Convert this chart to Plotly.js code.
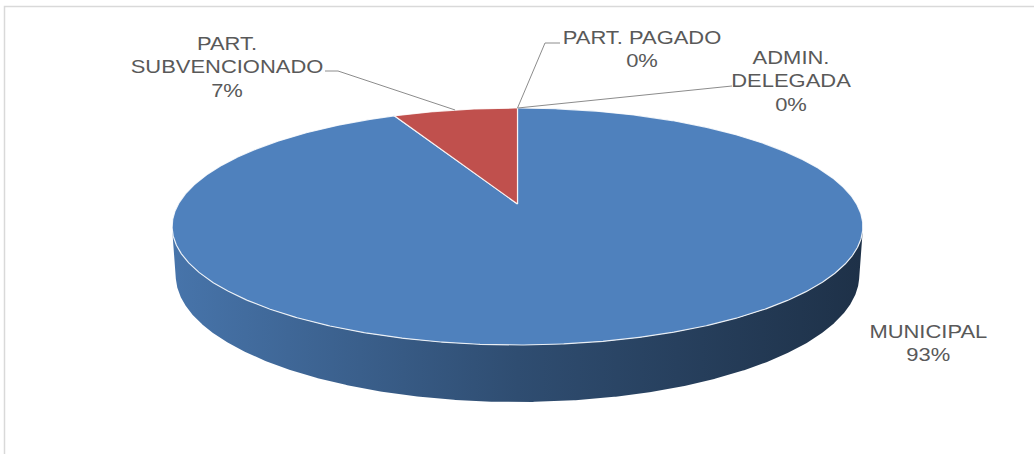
<!DOCTYPE html>
<html>
<head>
<meta charset="utf-8">
<script src="https://cdn.plot.ly/plotly-3.0.1.min.js"></script>
<style>
  html, body { margin: 0; padding: 0; background: #fff; }
  #chart { width: 1034px; height: 454px; }
</style>
</head>
<body>
<div id="chart"></div>
<script>
// ---- data ----
const categories = ['MUNICIPAL', 'PART. SUBVENCIONADO', 'PART. PAGADO', 'ADMIN. DELEGADA'];
const labelText = ['MUNICIPAL', 'PART.<br>SUBVENCIONADO', 'PART. PAGADO', 'ADMIN.<br>DELEGADA'];
const values = [93, 7, 0, 0];
const colors = ['#4F81BD', '#C0504D', '#9BBB59', '#8064A2'];

// ---- style / layout (label placement in page pixels) ----
const labelPos = [[928, 343], [227, 67], [642, 49], [791, 81]];
const labelElbow = [null, [[338, 71], [325, 71]], [[545, 43], [560, 43]], [[717, 87], [732, 86]]];

// perspective camera for the 3-D pie
const P = { cx: 517.5, cy: 204, k: 1681, s: 0.3368, c: 0.9416, D: 4.957, h: 0.151 };
function projXYZ(X, Y, Z) {
  const depth = P.D + Y * P.c - Z * P.s;
  const up = Y * P.s + Z * P.c;
  return [P.cx + P.k * X / depth, P.cy - P.k * up / depth];
}
function proj(th, z) { return projXYZ(Math.cos(th), Math.sin(th), z); }
function shade(hex, f) {
  const n = parseInt(hex.slice(1), 16);
  const r = Math.round(((n >> 16) & 255) * f), g = Math.round(((n >> 8) & 255) * f), b = Math.round((n & 255) * f);
  return 'rgb(' + r + ',' + g + ',' + b + ')';
}

const TAU = Math.PI * 2;
const total = values.reduce((a, b) => a + b, 0);
const step = TAU / 1440;
const visLimit = -1 / (P.D * P.c);

// overall horizontal extent for the side gradient
let minX = Infinity, maxX = -Infinity;
for (let t = 0; t < TAU; t += step) {
  const p = proj(t, -P.h / 2);
  minX = Math.min(minX, p[0]); maxX = Math.max(maxX, p[0]);
}

const wallTraces = [], topTraces = [], lineTraces = [];
const annotations = [];
let cum = 0;
values.forEach((v, i) => {
  const a0 = Math.PI / 2 - cum / total * TAU;
  const a1 = Math.PI / 2 - (cum + v) / total * TAU;
  const mid = (a0 + a1) / 2;
  cum += v;

  // side wall (visible front part)
  if (v > 0) {
    const n = Math.max(2, Math.ceil((a0 - a1) / step));
    let run = [];
    const flush = () => {
      if (run.length > 1) {
        const xs = [], ys = [];
        run.forEach(t => { const p = proj(t, 0); xs.push(p[0]); ys.push(p[1]); });
        run.slice().reverse().forEach(t => { const p = proj(t, -P.h); xs.push(p[0]); ys.push(p[1]); });
        xs.push(xs[0]); ys.push(ys[0]);
        wallTraces.push({
          type: 'scatter', mode: 'lines', x: xs, y: ys, fill: 'toself',
          fillcolor: shade(colors[i], 0.6),
          fillgradient: {
            type: 'horizontal', start: minX, stop: maxX,
            colorscale: [[0, shade(colors[i], 0.9)], [0.5, shade(colors[i], 0.6)], [1, shade(colors[i], 0.38)]]
          },
          line: { width: 0 }, hoverinfo: 'skip', showlegend: false
        });
      }
      run = [];
    };
    for (let j = 0; j <= n; j++) {
      const t = a0 - (a0 - a1) * j / n;
      if (Math.sin(t) <= visLimit) run.push(t); else flush();
    }
    flush();

    // top face
    const c0 = projXYZ(0, 0, 0);
    const xs = [c0[0]], ys = [c0[1]];
    for (let j = 0; j <= n; j++) {
      const p = proj(a0 - (a0 - a1) * j / n, 0);
      xs.push(p[0]); ys.push(p[1]);
    }
    xs.push(c0[0]); ys.push(c0[1]);
    topTraces.push({
      type: 'scatter', mode: 'lines', x: xs, y: ys, fill: 'toself',
      fillcolor: colors[i], line: { color: 'rgba(255,255,255,0.85)', width: 1.2 },
      name: categories[i], hoverinfo: 'skip', showlegend: false
    });
  }

  // label + leader
  const pct = Math.round(v / total * 100) + '%';
  annotations.push({
    xref: 'x', yref: 'y', x: labelPos[i][0], y: labelPos[i][1],
    text: labelText[i] + '<br>' + pct, showarrow: false,
    xanchor: 'center', yanchor: 'middle', align: 'center',
    font: { family: 'Liberation Sans, Arial, sans-serif', size: 18, color: '#595959' }
  });
  if (labelElbow[i]) {
    const p = proj(mid, 0);
    const xs = [p[0]], ys = [p[1]];
    labelElbow[i].forEach(q => { xs.push(q[0]); ys.push(q[1]); });
    lineTraces.push({
      type: 'scatter', mode: 'lines', x: xs, y: ys,
      line: { color: '#8c8c8c', width: 1 }, hoverinfo: 'skip', showlegend: false
    });
  }
});

const layout = {
  width: 1034, height: 454,
  margin: { l: 0, r: 0, t: 0, b: 0 },
  paper_bgcolor: '#ffffff', plot_bgcolor: '#ffffff',
  showlegend: false,
  xaxis: { range: [0, 1034], visible: false, fixedrange: true },
  yaxis: { range: [454, 0], visible: false, fixedrange: true },
  annotations: annotations,
  shapes: [{
    type: 'rect', xref: 'x', yref: 'y', x0: 4.5, y0: 6.5, x1: 1045, y1: 470,
    line: { color: '#d9d9d9', width: 1.5 }, fillcolor: 'rgba(0,0,0,0)', layer: 'below'
  }]
};

Plotly.newPlot('chart', wallTraces.concat(topTraces, lineTraces), layout, { staticPlot: true, displayModeBar: false })
  .then(() => {
    document.querySelectorAll('#chart .annotation-text').forEach(t => {
      const b = t.getBBox();
      const cx = b.x + b.width / 2;
      const prev = t.getAttribute('transform') || '';
      t.setAttribute('transform', prev + ' translate(' + cx + ',0) scale(1.22,1) translate(' + (-cx) + ',0)');
    });
  });
</script>
</body>
</html>
